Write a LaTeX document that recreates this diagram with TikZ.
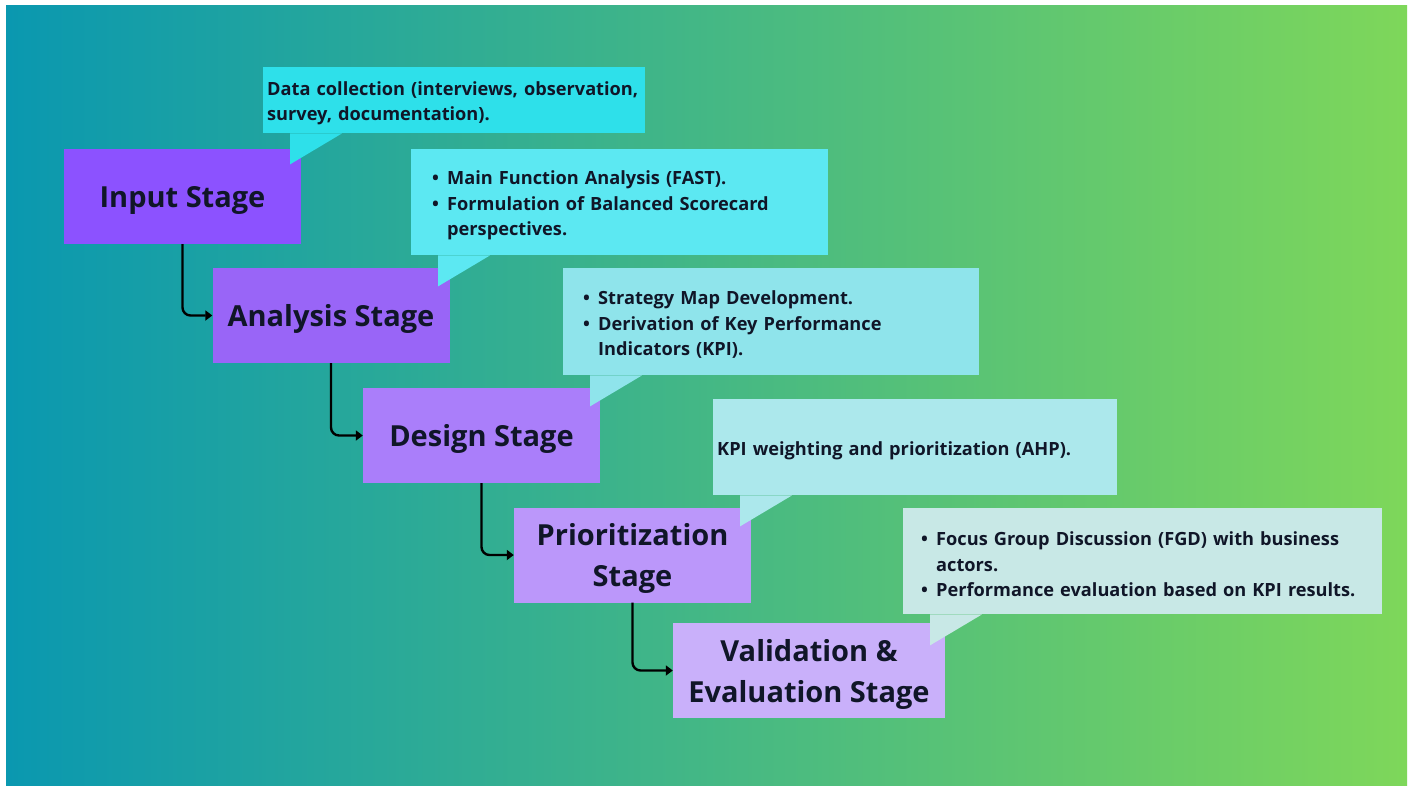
\documentclass[tikz,border=0pt]{standalone}
\usepackage{fontspec}
\setmainfont{Open Sans}
\usetikzlibrary{arrows.meta,calc}

% stage box fills, dark to light violet
\definecolor{stA}{RGB}{140,82,255}
\definecolor{stB}{RGB}{153,101,247}
\definecolor{stC}{RGB}{170,126,250}
\definecolor{stD}{RGB}{187,151,250}
\definecolor{stE}{RGB}{201,176,250}
% callout fills, cyan to pale
\definecolor{coA}{RGB}{46,224,234}
\definecolor{coB}{RGB}{92,232,242}
\definecolor{coC}{RGB}{143,228,235}
\definecolor{coD}{RGB}{172,232,236}
\definecolor{coE}{RGB}{200,232,230}
\definecolor{ink}{RGB}{16,22,40}
\definecolor{bgL}{RGB}{10,152,176}
\definecolor{bgR}{RGB}{126,215,90}

\newcommand{\bul}[1]{\makebox[15pt][l]{•}#1}
\newcommand{\cont}[1]{\hspace*{15pt}#1}

\tikzset{
  stage/.style={fill=#1, text=ink, minimum width=237pt, minimum height=95pt,
    inner sep=0pt, text depth=0pt, align=center,
    font=\fontsize{29}{41}\selectfont\bfseries},
  callout/.style={fill=#1, text=ink, anchor=north west, align=left,
    inner ysep=0pt, execute at begin node={\rule{0pt}{20pt}},
    font=\fontsize{18.2}{25.5}\selectfont\bfseries},
  link/.style={draw=black, line width=2.4pt, rounded corners=8pt,
    -{Triangle[length=7pt,width=10pt]}}
}

% speech tail hanging from the lower left of a callout
\newcommand{\tail}[2]{%
  \fill[#2] ($(#1.south west)+(27,0)$) -- ++(0,31) -- ($(#1.south west)+(79,0)$) -- cycle;}

\begin{document}
\begin{tikzpicture}[x=1pt,y=-1pt]
  % page and gradient panel
  \fill[white] (0,0) rectangle (1412,787);
  \shade[left color=bgL, right color=bgR] (6,5) rectangle (1407,785);

  % callouts
  \node[callout=coA, inner xsep=4pt, text width=374pt, minimum height=66pt] (c1) at (263,67)
    {Data collection (interviews, observation,\\survey, documentation).};
  \node[callout=coB, inner xsep=21pt, text width=375pt, minimum height=106pt] (c2) at (411,149)
    {\bul{Main Function Analysis (FAST).}\\\bul{Formulation of Balanced Scorecard}\\\cont{perspectives.}};
  \node[callout=coC, inner xsep=20pt, text width=376pt, minimum height=107pt] (c3) at (563,268)
    {\bul{Strategy Map Development.}\\\bul{Derivation of Key Performance}\\\cont{Indicators (KPI).}};
  \node[callout=coD, inner xsep=4pt, text width=396pt, minimum height=96pt] (c4) at (713,399)
    {KPI weighting and prioritization (AHP).};
  \node[callout=coE, inner xsep=18pt, text width=443pt, minimum height=106pt] (c5) at (903,508)
    {\bul{Focus Group Discussion (FGD) with business}\\\cont{actors.}\\\bul{Performance evaluation based on KPI results.}};

  % stage boxes
  \node[stage=stA] (s1) at (182.5,196.5) {Input Stage};
  \node[stage=stB] (s2) at (331,315.5) {Analysis Stage};
  \node[stage=stC] (s3) at (481.5,435.5) {Design Stage};
  \node[stage=stD] (s4) at (632.5,555) {Prioritization\\Stage};
  \node[stage=stE, minimum width=272pt] (s5) at (809,670.5) {Validation \&\\Evaluation Stage};

  % tails lie over the stage boxes
  \tail{c1}{coA}
  \tail{c2}{coB}
  \tail{c3}{coC}
  \tail{c4}{coD}
  \tail{c5}{coE}

  % flow between stages
  \draw[link] (s1.south) |- (s2.west);
  \draw[link] (s2.south) |- (s3.west);
  \draw[link] (s3.south) |- (s4.west);
  \draw[link] (s4.south) |- (s5.west);
\end{tikzpicture}
\end{document}
